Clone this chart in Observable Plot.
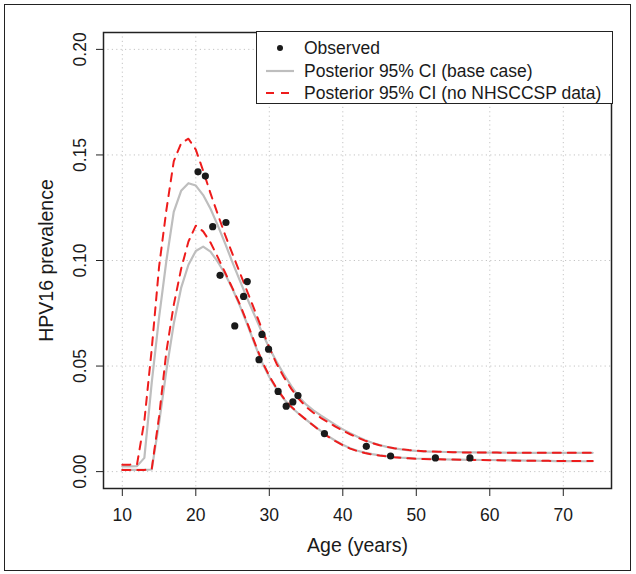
<!DOCTYPE html>
<html><head><meta charset="utf-8">
<script src="https://cdn.jsdelivr.net/npm/d3@7"></script>
<script src="https://cdn.jsdelivr.net/npm/@observablehq/plot@0.6"></script>
<style>
html,body{margin:0;padding:0;background:#fff;}
#wrap{position:relative;width:636px;height:574px;font-family:"Liberation Sans",Arial,Helvetica,sans-serif;}
#outer{position:absolute;left:4px;top:4px;width:627px;height:567px;border:1.5px solid #222;box-sizing:border-box;pointer-events:none;}
#legend{position:absolute;left:256px;top:31px;width:357px;height:73px;border:1.5px solid #222;box-sizing:border-box;background:#fff;}
.row{position:absolute;left:0;height:22px;width:350px;font-size:17.5px;color:#1a1a1a;}
.row svg{position:absolute;left:7px;top:5px;}
.row span{position:absolute;left:47px;top:1px;white-space:nowrap;line-height:20px;}
</style>
</head><body>
<div id="wrap">
  <div id="chart"></div>
  <div id="legend"></div>
  <div id="outer"></div>
</div>
<script>
// ---- data ----
const ages = [10,11,12,13,14,15,16,17,18,19,20,21,22,23,24,25,26,27,28,29,30,31,32,33,34,35,36,37,38,39,40,41,42,43,44,45,46,47,48,49,50,51,52,53,54,55,56,57,58,59,60,61,62,63,64,65,66,67,68,69,70,71,72,73,74];

const baseUpper = [0.0025,0.0025,0.0026,0.0065,0.042,0.073,0.100,0.123,0.133,0.1366,0.1355,0.131,0.1245,0.1165,0.108,0.0990,0.0905,0.082,0.074,0.066,0.0585,0.052,0.046,0.0405,0.0355,0.0318,0.0290,0.0266,0.0244,0.0221,0.0200,0.0182,0.0165,0.0150,0.0137,0.0126,0.0117,0.0110,0.0105,0.0101,0.0098,0.0096,0.0095,0.0094,0.0093,0.0092,0.0092,0.0091,0.0091,0.0090,0.0090,0.0090,0.0090,0.0089,0.0089,0.0089,0.0089,0.0089,0.0089,0.0089,0.0089,0.0089,0.0089,0.0089,0.0089];

const baseLower = [0.0008,0.0008,0.0008,0.0008,0.0010,0.023,0.048,0.070,0.087,0.098,0.1045,0.1066,0.1042,0.0993,0.0935,0.0865,0.0785,0.0698,0.0605,0.0518,0.0448,0.0390,0.0343,0.0305,0.0274,0.0246,0.0219,0.0193,0.0168,0.0146,0.0127,0.0111,0.0099,0.0090,0.0083,0.0077,0.0073,0.0069,0.0066,0.0064,0.0062,0.0061,0.0060,0.0059,0.0058,0.0057,0.0057,0.0056,0.0056,0.0055,0.0055,0.0054,0.0054,0.0053,0.0053,0.0052,0.0052,0.0051,0.0051,0.0050,0.0050,0.0050,0.0049,0.0049,0.0049];

const noNhsUpper = [0.0033,0.0033,0.0034,0.024,0.058,0.097,0.124,0.147,0.1555,0.1577,0.1525,0.1425,0.1318,0.1218,0.112,0.1030,0.0942,0.0853,0.0765,0.0675,0.0588,0.0510,0.0447,0.0392,0.0345,0.0307,0.0279,0.0255,0.0234,0.0213,0.0194,0.0177,0.0161,0.0147,0.0135,0.0125,0.0117,0.0111,0.0106,0.0102,0.0099,0.0097,0.0095,0.0094,0.0093,0.0092,0.0091,0.0091,0.0090,0.0090,0.0090,0.0090,0.0089,0.0089,0.0089,0.0089,0.0089,0.0089,0.0089,0.0089,0.0089,0.0089,0.0089,0.0089,0.0089];

const noNhsLower = [0.0008,0.0008,0.0008,0.0008,0.0012,0.026,0.057,0.079,0.096,0.109,0.1165,0.1138,0.1085,0.1015,0.0942,0.0868,0.0792,0.0705,0.0612,0.0524,0.0453,0.0394,0.0346,0.0307,0.0275,0.0246,0.0218,0.0191,0.0166,0.0144,0.0125,0.0109,0.0097,0.0088,0.0081,0.0076,0.0072,0.0068,0.0065,0.0063,0.0061,0.0060,0.0059,0.0058,0.0057,0.0057,0.0056,0.0056,0.0055,0.0055,0.0054,0.0054,0.0053,0.0053,0.0052,0.0052,0.0051,0.0051,0.0051,0.0050,0.0050,0.0050,0.0050,0.0050,0.0050];

const obsAge  = [20.3,21.3,22.3,24.1,23.3,25.3,26.5,27.0,28.6,29.0,29.9,31.2,32.3,33.2,33.9,37.5,43.2,46.5,52.6,57.3];
const obsPrev = [0.142,0.140,0.116,0.118,0.093,0.069,0.083,0.090,0.053,0.065,0.058,0.038,0.031,0.033,0.036,0.018,0.012,0.0074,0.0065,0.0065];

const xTicks = [10,20,30,40,50,60,70];
const yTicks = [0,0.05,0.10,0.15,0.20];
const legendLabels = ["Observed","Posterior 95% CI (base case)","Posterior 95% CI (no NHSCCSP data)"];
const xTitle = "Age (years)";
const yTitle = "HPV16 prevalence";

// ---- tables ----
const curves = ages.map((a,i)=>({age:a, bu:baseUpper[i], bl:baseLower[i], nu:noNhsUpper[i], nl:noNhsLower[i]}));
const obs = obsAge.map((a,i)=>({age:a, prev:obsPrev[i]}));

const GRAY = "#bebebe", RED = "#ee1c1c", INK = "#1a1a1a";
const FONT = '"Liberation Sans", Arial, Helvetica, sans-serif';

const chart = Plot.plot({
  width: 636, height: 574,
  marginLeft: 103, marginRight: 25, marginTop: 32, marginBottom: 86,
  style: {fontFamily: FONT, fontSize: "17.5px", color: INK, background: "transparent"},
  x: {domain: [7.44, 76.56]},
  y: {domain: [-0.008, 0.208]},
  marks: [
    Plot.gridX(xTicks, {stroke: "#c4c4c4", strokeOpacity: 1, strokeDasharray: "1.2,3.2", strokeWidth: 1}),
    Plot.gridY(yTicks, {stroke: "#c4c4c4", strokeOpacity: 1, strokeDasharray: "1.2,3.2", strokeWidth: 1}),
    Plot.line(curves, {x: "age", y: "bu", stroke: GRAY, strokeWidth: 2.2}),
    Plot.line(curves, {x: "age", y: "bl", stroke: GRAY, strokeWidth: 2.2}),
    Plot.line(curves, {x: "age", y: "nu", stroke: RED, strokeWidth: 2, strokeDasharray: "8,7"}),
    Plot.line(curves, {x: "age", y: "nl", stroke: RED, strokeWidth: 2, strokeDasharray: "8,7"}),
    Plot.dot(obs, {x: "age", y: "prev", r: 3.6, fill: INK, stroke: null}),
    Plot.frame({stroke: "#222", strokeWidth: 1.5}),
    Plot.axisX(xTicks, {tickSize: 8, tickPadding: 12, label: null, stroke: "#222"}),
    Plot.axisY(yTicks, {tickSize: 7, tickFormat: () => "", label: null, stroke: "#222"}),
    Plot.text(yTicks, {y: d => d, text: d3.format(".2f"), frameAnchor: "left", dx: -23, rotate: -90, textAnchor: "middle", lineAnchor: "middle", fontSize: 17.5, fill: INK}),
    Plot.text([yTitle], {text: d => d, frameAnchor: "left", dx: -57, rotate: -90, textAnchor: "middle", lineAnchor: "middle", fontSize: 19.5, fill: INK}),
    Plot.text([xTitle], {text: d => d, frameAnchor: "bottom", dy: 57, textAnchor: "middle", lineAnchor: "middle", fontSize: 19.5, fill: INK})
  ]
});
document.getElementById("chart").appendChild(chart);

// ---- legend (HTML) ----
const swatches = [
  `<svg width="32" height="12"><circle cx="16" cy="6" r="3" fill="${INK}"/></svg>`,
  `<svg width="32" height="12"><line x1="2" x2="30" y1="6" y2="6" stroke="${GRAY}" stroke-width="2.2"/></svg>`,
  `<svg width="32" height="12"><line x1="2" x2="30" y1="6" y2="6" stroke="${RED}" stroke-width="2" stroke-dasharray="8,7"/></svg>`
];
const tops = [5, 27.5, 50];
const leg = document.getElementById("legend");
legendLabels.forEach((lab, i) => {
  const row = document.createElement("div");
  row.className = "row";
  row.style.top = tops[i] + "px";
  row.innerHTML = swatches[i] + `<span>${lab}</span>`;
  leg.appendChild(row);
});
</script>
</body></html>
